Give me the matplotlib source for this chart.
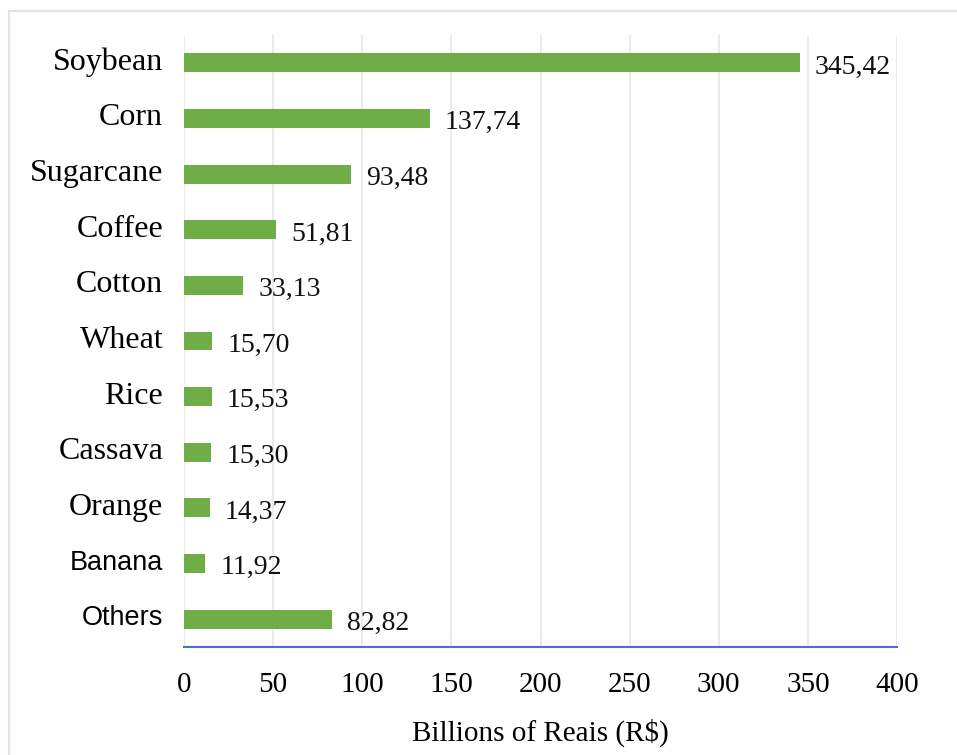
import matplotlib.pyplot as plt
import matplotlib.transforms as mtransforms
from matplotlib.patches import Rectangle

categorias = ['Soybean', 'Corn', 'Sugarcane', 'Coffee', 'Cotton', 'Wheat',
              'Rice', 'Cassava', 'Orange', 'Banana', 'Others']
valores = [345.42, 137.74, 93.48, 51.81, 33.13, 15.70, 15.53, 15.30, 14.37, 11.92, 82.82]
etiquetas = ['345,42', '137,74', '93,48', '51,81', '33,13', '15,70',
             '15,53', '15,30', '14,37', '11,92', '82,82']
ticks_x = [0, 50, 100, 150, 200, 250, 300, 350, 400]

serif = 'Liberation Serif'
sans = 'Liberation Sans'

fig = plt.figure(figsize=(9.57, 7.55), dpi=100)
ax = fig.add_axes([0.1923, 0.1430, 0.7450, 0.8106])

# marco gris de la figura
fig.patches.append(Rectangle((9 / 957, -0.05), 1.1, 1 - 11 / 755 + 0.05,
                             transform=fig.transFigure, fill=False,
                             edgecolor='#E3E3E3', linewidth=1.5))

pos = list(range(len(categorias)))
ax.barh(pos, valores, height=0.34, color='#70AD47', zorder=3)
ax.set_ylim(len(categorias) - 0.5, -0.5)
ax.set_xlim(0, 400)

for p, v, e in zip(pos, valores, etiquetas):
    ax.annotate(e, (v, p), xytext=(11, -3), textcoords='offset points',
                ha='left', va='center', fontsize=20, family=serif, color='#111111')

ax.set_xticks(ticks_x)
ax.set_xticklabels([str(t) for t in ticks_x], fontsize=21, family=serif)
ax.tick_params(axis='x', length=0, pad=18)
ax.set_yticks(pos)
ax.set_yticklabels(categorias, fontsize=23, family=serif)
ax.tick_params(axis='y', length=0, pad=15)
subir = mtransforms.ScaledTranslation(0, 4 / 100, fig.dpi_scale_trans)
for lbl in ax.get_yticklabels():
    lbl.set_transform(lbl.get_transform() + subir)
    if lbl.get_text() in ('Banana', 'Others'):
        lbl.set_fontfamily(sans)
        lbl.set_fontsize(19.5)

ax.grid(axis='x', color='#EBEBEB', linewidth=1.5, zorder=0)
for s in ['top', 'right', 'left']:
    ax.spines[s].set_visible(False)
ax.spines['bottom'].set_color('#4472C4')
ax.spines['bottom'].set_linewidth(1.5)

ax.set_xlabel('Billions of Reais (R$)', fontsize=21, family=serif, labelpad=15)

fig.savefig('out.png', dpi=100)
